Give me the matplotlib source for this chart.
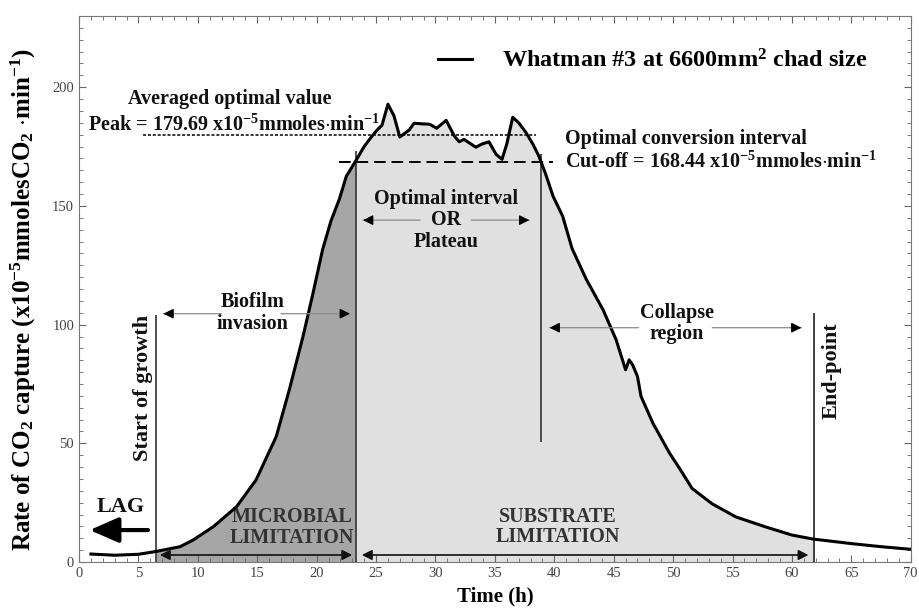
import numpy as np
import matplotlib
matplotlib.use("Agg")
import matplotlib.pyplot as plt

plt.rcParams['font.family'] = ['Liberation Serif', 'DejaVu Serif']
plt.rcParams['mathtext.fontset'] = 'custom'
plt.rcParams['mathtext.rm'] = 'Liberation Serif:bold'
plt.rcParams['mathtext.it'] = 'Liberation Serif:bold'
plt.rcParams['mathtext.bf'] = 'Liberation Serif:bold'
plt.rcParams['mathtext.default'] = 'rm'

# CO2 capture rate
time_h = [1, 3, 5, 6.5, 8.5, 9.6, 11.3, 13.25, 14.9, 16.6, 17.7, 18.85, 19.7, 20.5,
          21.2, 21.9, 22.5, 23.2, 24.0, 24.6, 25.1, 25.5, 26.0, 26.5, 27.0, 27.4,
          27.8, 28.2, 29.0, 29.5, 30.1, 30.9, 31.6, 32.0, 32.4, 33.4, 33.9, 34.5,
          35.1, 35.6, 36.0, 36.5, 37.0, 37.6, 38.2, 38.7, 39.3, 39.9, 40.7, 41.5,
          42.7, 44.1, 45.2, 46.0, 46.3, 46.6, 47.0, 47.3, 48.3, 49.7, 50.6, 51.6,
          53.3, 55.3, 57.8, 60.0, 61.8, 65.0, 67.5, 70.0]
rate = [3.4, 2.9, 3.3, 4.5, 6.5, 9.3, 14.9, 23.3, 34.6, 52.9, 72.6, 95, 113.4, 131.6,
        143.6, 152.7, 162.5, 168.2, 175, 179, 182, 184, 192.8, 188, 179, 180.5,
        182, 184.8, 184.5, 184.4, 182.7, 186, 179.3, 177, 178, 174.7, 176, 177,
        171.7, 169.6, 176, 187.3, 185, 181, 176, 171, 163, 154, 145.7, 132,
        119, 106.3, 93.7, 81, 85.2, 83, 78.2, 69.8, 58.5, 45.9, 39, 31,
        24.5, 19, 14.8, 11.4, 9.7, 7.8, 6.5, 5.4]

peak_avg = 179.69
cutoff = 168.44
t_start = 6.5
t_micro = 23.3
t_plateau_end = 38.9
t_end = 61.9

fig = plt.figure(figsize=(9.19, 6.11), dpi=100)
ax = fig.add_axes([0.086, 0.080, 0.905, 0.894])

t = np.array(time_h)
r = np.array(rate)

# shaded regions under the curve
m1 = (t > t_start) & (t < t_micro)
x1 = np.concatenate([[t_start], t[m1], [t_micro]])
ax.fill_between(x1, 0, np.interp(x1, t, r), color='#a6a6a6', lw=0, zorder=1)
m2 = (t > t_micro) & (t < t_end)
x2 = np.concatenate([[t_micro], t[m2], [t_end]])
ax.fill_between(x2, 0, np.interp(x2, t, r), color='#e0e0e0', lw=0, zorder=1)

ax.plot(t, r, color='black', lw=2.2, zorder=5,
        label=r'Whatman #3 at 6600mm$^2$ chad size')

# reference levels
ax.hlines(peak_avg, 5.4, 38.5, colors='black', linestyles=(0, (2, 1.2)), lw=1.1, zorder=4)
ax.hlines(cutoff, 21.9, 39.9, colors='black', linestyles=(0, (6, 3)), lw=1.4, zorder=4)

# phase markers
ax.vlines(t_start, 0, 104, colors='#333333', lw=1.2, zorder=3)
ax.vlines(t_micro, 0, 173, colors='#333333', lw=1.2, zorder=3)
ax.vlines(t_plateau_end, 50.5, 172, colors='#333333', lw=1.2, zorder=3)
ax.vlines(t_end, 0, 105, colors='#222222', lw=1.2, zorder=3)

bold = dict(fontweight='bold', color='#111111')
FS = 14.5


def arrow(x_from, x_to, y):
    # thin grey shaft with a black head
    ax.annotate('', xy=(x_to, y), xytext=(x_from, y),
                arrowprops=dict(arrowstyle='-', color='#8a8a8a', lw=0.9,
                                shrinkA=0, shrinkB=0), zorder=6)
    d = 0.5 if x_to > x_from else -0.5
    ax.annotate('', xy=(x_to, y), xytext=(x_to - d, y),
                arrowprops=dict(arrowstyle='-|>', color='black', lw=0.9,
                                mutation_scale=15, shrinkA=0, shrinkB=0), zorder=6)


# biofilm invasion
arrow(12.0, 7.1, 104.6)
arrow(17.0, 22.8, 104.6)
ax.text(14.6, 105, 'Biofilm\ninvasion', ha='center', va='center', fontsize=FS,
        linespacing=1.1, **bold)

# plateau
arrow(28.7, 23.9, 144)
arrow(33.0, 37.9, 144)
ax.text(30.9, 144, 'Optimal interval\nOR\nPlateau', ha='center', va='center', fontsize=FS,
        linespacing=1.1, **bold)

# collapse region
arrow(47.1, 39.6, 98.7)
arrow(53.3, 60.8, 98.7)
ax.text(50.3, 100.5, 'Collapse\nregion', ha='center', va='center', fontsize=FS,
        linespacing=1.1, **bold)

# limitation arrows along the bottom
for xa, xb in [(6.8, 23.0), (23.8, 61.4)]:
    ax.annotate('', xy=(xb, 3.0), xytext=(xa, 3.0),
                arrowprops=dict(arrowstyle='<|-|>', color='#111111', lw=1.2,
                                mutation_scale=15, shrinkA=0, shrinkB=0), zorder=6)
ax.text(17.9, 14.5, 'MICROBIAL\nLIMITATION', ha='center', va='center', fontsize=FS,
        linespacing=1.05, fontweight='bold', color='#333333')
ax.text(40.3, 14.8, 'SUBSTRATE\nLIMITATION', ha='center', va='center', fontsize=FS,
        linespacing=1.05, fontweight='bold', color='#333333')

# lag
ax.annotate('', xy=(0.9, 13.5), xytext=(5.8, 13.5),
            arrowprops=dict(arrowstyle='-|>,head_width=0.35,head_length=0.8', color='black',
                            lw=3, mutation_scale=22, shrinkA=0, shrinkB=0))
ax.text(3.5, 23, 'LAG', ha='center', va='center', fontsize=16, **bold)

ax.text(5.4, 73.5, 'Start of growth', rotation=90, ha='center', va='center',
        fontsize=16, **bold)
ax.text(63.3, 80.5, 'End-point', rotation=90, ha='center', va='center',
        fontsize=16, **bold)

# level labels
ax.text(12.7, 195, 'Averaged optimal value', ha='center', va='center', fontsize=FS, **bold)
ax.text(0.75, 184, r'Peak = 179.69 x10$^{-5}$mmoles$\cdot$min$^{-1}$', ha='left',
        va='center', fontsize=FS, **bold)
ax.text(40.9, 178, 'Optimal conversion interval', ha='left', va='center', fontsize=FS, **bold)
ax.text(40.9, 168.4, r'Cut-off = 168.44 x10$^{-5}$mmoles$\cdot$min$^{-1}$', ha='left',
        va='center', fontsize=FS, **bold)

ax.legend(loc='center right', bbox_to_anchor=(0.948, 0.917), frameon=False,
          borderpad=0, borderaxespad=0, prop=dict(weight='bold', size=17.5),
          handlelength=1.4, handletextpad=1.25)

ax.set_xlim(0, 70)
ax.set_ylim(0, 230)
ax.set_xticks(np.arange(0, 71, 5))
ax.set_xticks(np.arange(0, 71, 1), minor=True)
ax.set_yticks([0, 50, 100, 150, 200])
ax.set_yticks(np.arange(0, 231, 5), minor=True)
ax.tick_params(which='both', direction='in', top=True, right=True, color='#666666',
               labelsize=10.5, labelcolor='#444444')
ax.tick_params(which='major', length=5)
ax.tick_params(which='minor', length=3)
for s in ax.spines.values():
    s.set_color('#777777')

ax.set_xlabel('Time (h)', fontsize=15, fontweight='bold', labelpad=5)
ax.set_ylabel(r'Rate of CO$_2$ capture (x10$^{-5}$mmolesCO$_2$ $\cdot$min$^{-1}$)',
              fontsize=18, fontweight='bold')
ax.yaxis.set_label_coords(-0.049, 0.48)

fig.savefig('out.png', dpi=100)
